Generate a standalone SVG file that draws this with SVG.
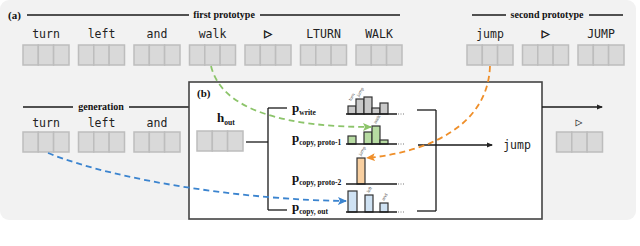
<svg xmlns="http://www.w3.org/2000/svg" width="640" height="246" viewBox="0 0 640 246">
<style>
.mono{font-family:"DejaVu Sans Mono","Liberation Mono",monospace;font-size:11.5px;fill:#222;text-anchor:middle}
.tri{font-family:"DejaVu Sans",sans-serif;font-size:10px;font-weight:bold;fill:#222;stroke:#222;stroke-width:0.6;text-anchor:middle}
.ser{font-family:"Liberation Serif","DejaVu Serif",serif;font-weight:bold;fill:#111}
.cell{fill:#d9d9d9;stroke:#bdbdbd;stroke-width:1.5}
.ln{stroke:#1a1a1a;stroke-width:1.3;fill:none}
.bar{stroke:#333;stroke-width:1.2}
.tiny{font-family:"Liberation Sans","DejaVu Sans",sans-serif;font-size:4.5px;fill:#555}
.dots{stroke:#555;stroke-width:0.8;stroke-dasharray:1 1.5}
</style>
<defs>
<g id="emb"><rect class="cell" x="0" y="0" width="15.3" height="20"/><rect class="cell" x="15.3" y="0" width="15.3" height="20"/><rect class="cell" x="30.6" y="0" width="15.4" height="20"/></g>
<marker id="ak" markerWidth="6" markerHeight="6" refX="5" refY="3" orient="auto" markerUnits="userSpaceOnUse"><path d="M0,0.5 L6,3 L0,5.5 z" fill="#222"/></marker>
<marker id="ag" markerWidth="10" markerHeight="10" refX="8" refY="5" orient="auto" markerUnits="userSpaceOnUse"><path d="M0,1 L9,5 L0,9 L2,5 z" fill="#8cc46a"/></marker>
<marker id="ao" markerWidth="10" markerHeight="10" refX="8" refY="5" orient="auto" markerUnits="userSpaceOnUse"><path d="M0,1 L9,5 L0,9 L2,5 z" fill="#ef8f2a"/></marker>
<marker id="ab" markerWidth="10" markerHeight="10" refX="8" refY="5" orient="auto" markerUnits="userSpaceOnUse"><path d="M0,1 L9,5 L0,9 L2,5 z" fill="#3b84cf"/></marker>
</defs>
<rect x="0" y="0" width="636" height="220" rx="9" fill="#f2f2f2"/>

<g id="header-a">
<text class="ser" x="8" y="19" font-size="11">(a)</text>
<line class="ln" x1="27" y1="15" x2="189" y2="15"/>
<text class="ser" x="224" y="18" font-size="10" text-anchor="middle">first prototype</text>
<line class="ln" x1="260" y1="15" x2="400" y2="15"/>
<line class="ln" x1="472" y1="15" x2="506" y2="15"/>
<text class="ser" x="547" y="18" font-size="10" text-anchor="middle">second prototype</text>
<line class="ln" x1="589" y1="15" x2="623" y2="15"/>
</g>

<g id="proto1">
<g id="p1-turn"><text class="mono" x="46" y="38">turn</text><use href="#emb" x="23" y="45"/></g>
<g id="p1-left"><text class="mono" x="101.5" y="38">left</text><use href="#emb" x="78.5" y="45"/></g>
<g id="p1-and"><text class="mono" x="157" y="38">and</text><use href="#emb" x="134" y="45"/></g>
<g id="p1-walk"><text class="mono" x="212.5" y="38">walk</text><use href="#emb" x="189.5" y="45"/></g>
<g id="p1-sep"><text class="tri" x="268" y="37">▷</text><use href="#emb" x="245" y="45"/></g>
<g id="p1-LTURN"><text class="mono" x="323.5" y="38">LTURN</text><use href="#emb" x="300.5" y="45"/></g>
<g id="p1-WALK"><text class="mono" x="379" y="38">WALK</text><use href="#emb" x="356" y="45"/></g>
</g>

<g id="proto2">
<g id="p2-jump"><text class="mono" x="490" y="38">jump</text><use href="#emb" x="467" y="45"/></g>
<g id="p2-sep"><text class="tri" x="545.5" y="37">▷</text><use href="#emb" x="522.5" y="45"/></g>
<g id="p2-JUMP"><text class="mono" x="601" y="38">JUMP</text><use href="#emb" x="578" y="45"/></g>
</g>

<g id="generation">
<line class="ln" x1="23" y1="107" x2="73" y2="107"/>
<text class="ser" x="101" y="110" font-size="10" text-anchor="middle">generation</text>
<line class="ln" x1="129" y1="107" x2="190" y2="107"/>
<g id="g-turn"><text class="mono" x="46" y="127">turn</text><use href="#emb" x="23" y="132"/></g>
<g id="g-left"><text class="mono" x="101.5" y="127">left</text><use href="#emb" x="78.5" y="132"/></g>
<g id="g-and"><text class="mono" x="157" y="127">and</text><use href="#emb" x="134" y="132"/></g>
<g id="g-next"><text class="mono" x="579" y="126" font-family="DejaVu Sans" font-size="10" fill="#999">▷</text><use href="#emb" x="556.5" y="132"/></g>
</g>

<g id="panel-b">
<rect x="189" y="82" width="353" height="137" fill="#fff" stroke="#444" stroke-width="1.6"/>
<text class="ser" x="197" y="97" font-size="11">(b)</text>
<g id="hout">
<text class="ser" x="217" y="122" font-size="13">h<tspan font-size="7.5" dy="3">out</tspan></text>
<use href="#emb" x="197" y="131"/>
</g>
<g id="bracket-left">
<line class="ln" x1="246" y1="142" x2="268" y2="142"/>
<line class="ln" x1="268" y1="108" x2="268" y2="210"/>
<line class="ln" x1="268" y1="108" x2="287" y2="108"/>
<line class="ln" x1="268" y1="210" x2="287" y2="210"/>
</g>
<g id="pwrite">
<text class="ser" x="292" y="112" font-size="13">p<tspan font-size="7.5" dy="3">write</tspan></text>
<rect class="bar" x="348" y="106" width="8" height="8" fill="#c9c9c9"/>
<rect class="bar" x="356" y="99" width="8" height="15" fill="#c9c9c9"/>
<rect class="bar" x="364" y="97" width="8" height="17" fill="#c9c9c9"/>
<rect class="bar" x="372" y="108" width="8" height="6" fill="#c9c9c9"/>
<rect class="bar" x="380" y="103" width="8" height="11" fill="#c9c9c9"/>
<line class="ln" x1="346" y1="114" x2="397" y2="114"/>
<line class="dots" x1="398" y1="114" x2="405" y2="114"/>
<text class="tiny" transform="translate(351,101) rotate(-60)">turn</text>
<text class="tiny" transform="translate(359,97) rotate(-60)">jump</text>
</g>
<g id="pproto1">
<text class="ser" x="292" y="142" font-size="13">p<tspan font-size="7.5" dy="3">copy, proto-1</tspan></text>
<rect class="bar" x="348" y="136" width="8" height="8" fill="#b7dba2"/>
<rect class="bar" x="364" y="132" width="8" height="12" fill="#b7dba2"/>
<rect class="bar" x="372" y="126" width="8" height="18" fill="#b7dba2"/>
<rect class="bar" x="380" y="140" width="8" height="4" fill="#b7dba2"/>
<line class="ln" x1="346" y1="144" x2="397" y2="144"/>
<line class="dots" x1="398" y1="144" x2="405" y2="144"/>
<text class="tiny" transform="translate(376,124) rotate(-60)">walk</text>
</g>
<g id="pproto2">
<text class="ser" x="292" y="182" font-size="13">p<tspan font-size="7.5" dy="3">copy, proto-2</tspan></text>
<rect class="bar" x="357" y="158" width="8" height="26" fill="#f8cfa0"/>
<line class="ln" x1="346" y1="184" x2="397" y2="184"/>
<line class="dots" x1="398" y1="184" x2="405" y2="184"/>
<text class="tiny" transform="translate(361,156) rotate(-60)">jump</text>
</g>
<g id="pout">
<text class="ser" x="292" y="211" font-size="13">p<tspan font-size="7.5" dy="3">copy, out</tspan></text>
<rect class="bar" x="348" y="191" width="9" height="21" fill="#cfe2f3"/>
<rect class="bar" x="365" y="195" width="8" height="17" fill="#cfe2f3"/>
<rect class="bar" x="380" y="203" width="8" height="9" fill="#cfe2f3"/>
<line class="ln" x1="346" y1="212" x2="397" y2="212"/>
<line class="dots" x1="398" y1="212" x2="405" y2="212"/>
<text class="tiny" transform="translate(369,193) rotate(-60)">left</text>
<text class="tiny" transform="translate(384,201) rotate(-60)">and</text>
</g>
<g id="bracket-right">
<line class="ln" x1="417" y1="110" x2="436" y2="110"/>
<line class="ln" x1="436" y1="110" x2="436" y2="211"/>
<line class="ln" x1="417" y1="211" x2="436" y2="211"/>
</g>
<g id="out-jump"><text class="mono" x="517" y="149" font-size="13">jump</text></g>
</g>

<g id="connectors">
<line class="ln" x1="542" y1="107" x2="602" y2="107" marker-end="url(#ak)"/>
<line class="ln" x1="418" y1="145" x2="492" y2="145" marker-end="url(#ak)"/>
<path d="M211,66 C222,112 290,127 371,127" fill="none" stroke="#8cc46a" stroke-width="1.8" stroke-dasharray="6 4" marker-end="url(#ag)"/>
<path d="M490,66 C488,125 430,152 367,158" fill="none" stroke="#ef8f2a" stroke-width="1.8" stroke-dasharray="6 4" marker-end="url(#ao)"/>
<path d="M48,153 C120,182 250,200 346,201" fill="none" stroke="#3b84cf" stroke-width="1.8" stroke-dasharray="6 4" marker-end="url(#ab)"/>
</g>
</svg>
